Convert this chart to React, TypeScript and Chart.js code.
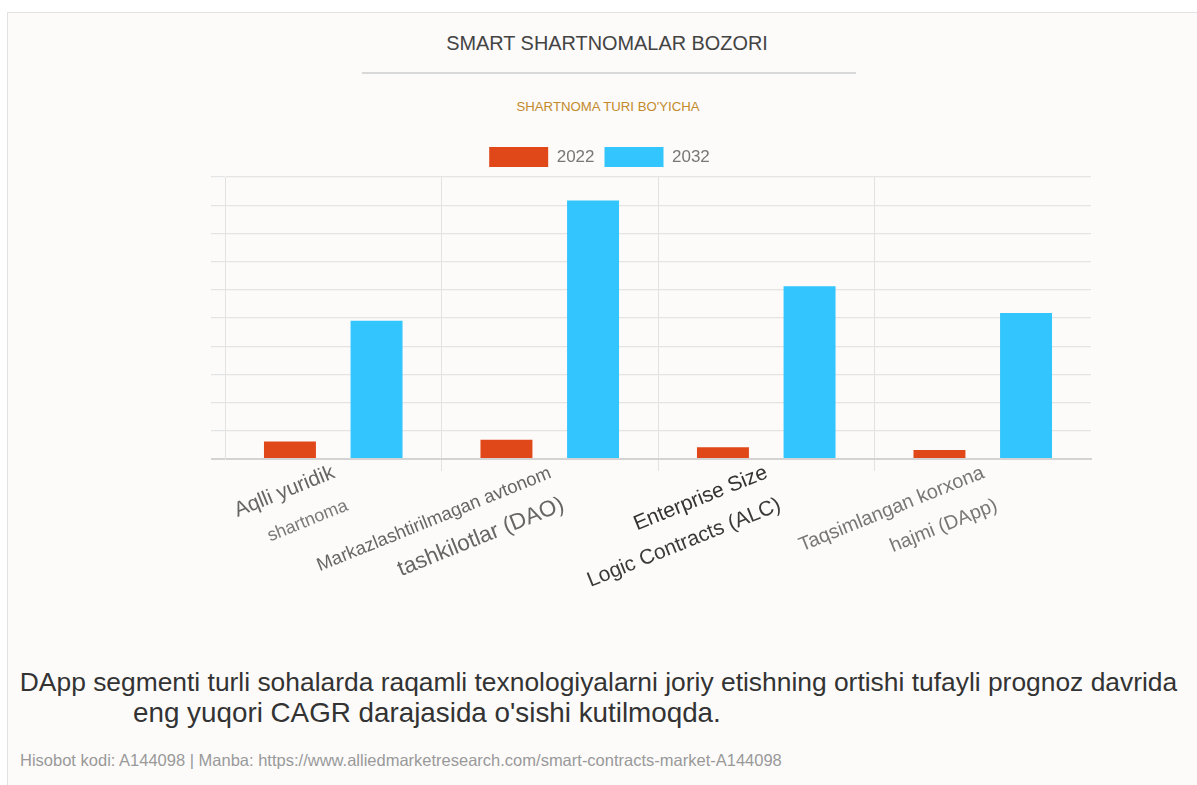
import React, { useEffect, useRef } from "react";
import { Chart, registerables } from "chart.js";

Chart.register(...registerables);

// ---------- data ----------
const TITLE = "SMART SHARTNOMALAR BOZORI";
const SUBTITLE = "SHARTNOMA TURI BO'YICHA";
const CATEGORIES = [
  "Aqlli yuridik shartnoma",
  "Markazlashtirilmagan avtonom tashkilotlar (DAO)",
  "Enterprise Size Logic Contracts (ALC)",
  "Taqsimlangan korxona hajmi (DApp)",
];
const CATEGORY_LINES = [
  ["Aqlli yuridik", "shartnoma"],
  ["Markazlashtirilmagan avtonom", "tashkilotlar (DAO)"],
  ["Enterprise Size", "Logic Contracts (ALC)"],
  ["Taqsimlangan korxona", "hajmi (DApp)"],
];
const SERIES_NAMES = ["2022", "2032"];
const VALUES_2022 = [0.62, 0.68, 0.42, 0.32];
const VALUES_2032 = [4.9, 9.17, 6.13, 5.18];
const Y_MAX = 10;
const Y_STEP = 1;
const NOTE_LINE_1 =
  "DApp segmenti turli sohalarda raqamli texnologiyalarni joriy etishning ortishi tufayli prognoz davrida";
const NOTE_LINE_2 = "eng yuqori CAGR darajasida o'sishi kutilmoqda.";
const SOURCE =
  "Hisobot kodi: A144098 | Manba: https://www.alliedmarketresearch.com/smart-contracts-market-A144098";

// ---------- styles ----------
const FONT = "'Liberation Sans', Arial, Helvetica, sans-serif";
const SERIES_COLORS = ["#e0481a", "#33c5fe"];
const LABEL_FONT_SIZES = [
  [21, 18],
  [18.5, 22.5],
  [21, 21],
  [19.8, 19.5],
];
const LABEL_COLORS = [
  ["#666", "#7a7a7a"],
  ["#666", "#666"],
  ["#333", "#3a3a3a"],
  ["#777", "#777"],
];
const LABEL_ANGLE = 22;

const labelPlugin = {
  id: "twoLineRotatedLabels",
  afterDraw(chart: any) {
    const xs = chart.scales.x;
    const ctx = chart.ctx;
    ctx.save();
    CATEGORY_LINES.forEach((lines, i) => {
      const x = xs.getPixelForValue(i);
      const y = xs.top + 1;
      ctx.save();
      ctx.translate(x, y);
      ctx.rotate((-LABEL_ANGLE * Math.PI) / 180);
      ctx.textAlign = "right";
      ctx.textBaseline = "alphabetic";
      lines.forEach((t, j) => {
        ctx.font = `${LABEL_FONT_SIZES[i][j]}px ${FONT}`;
        ctx.fillStyle = LABEL_COLORS[i][j];
        ctx.fillText(t, -4, j === 0 ? 17 : 52);
      });
      ctx.restore();
    });
    ctx.restore();
  },
};

function BarChart() {
  const ref = useRef<HTMLCanvasElement>(null);
  useEffect(() => {
    if (!ref.current) return;
    const chart = new Chart(ref.current, {
      type: "bar",
      data: {
        labels: CATEGORIES,
        datasets: [
          {
            label: SERIES_NAMES[0],
            data: VALUES_2022,
            backgroundColor: SERIES_COLORS[0],
            borderWidth: 0,
            categoryPercentage: 0.8,
            barPercentage: 0.6,
          },
          {
            label: SERIES_NAMES[1],
            data: VALUES_2032,
            backgroundColor: SERIES_COLORS[1],
            borderWidth: 0,
            categoryPercentage: 0.8,
            barPercentage: 0.6,
          },
        ],
      },
      options: {
        responsive: false,
        animation: false,
        layout: { padding: { left: 108, right: 106, top: 7, bottom: 139 } },
        plugins: {
          title: { display: false },
          tooltip: { enabled: false },
          legend: {
            display: true,
            position: "top",
            labels: {
              boxWidth: 59,
              boxHeight: 20,
              padding: 10,
              color: "#777",
              font: { family: FONT, size: 17 },
            },
          },
        },
        scales: {
          x: {
            offset: true,
            ticks: { display: false },
            grid: {
              offset: true,
              drawTicks: true,
              tickLength: 12,
              color: (c: any) =>
                c.index === undefined || c.index === 0 || c.index >= CATEGORIES.length
                  ? "rgba(0,0,0,0)"
                  : "#e2e2e2",
              lineWidth: 1,
            },
            border: { display: true, color: "#d3d3d3", width: 2 },
            afterFit: (s: any) => {
              s.height = 12;
            },
          },
          y: {
            min: 0,
            max: Y_MAX,
            ticks: { display: false, stepSize: Y_STEP },
            grid: {
              drawTicks: true,
              tickLength: 14,
              color: (c: any) => (c.tick && c.tick.value === 0 ? "#d3d3d3" : "#e4e4e4"),
              lineWidth: (c: any) => (c.tick && c.tick.value === 0 ? 2 : 1.2),
            },
            border: { display: true, color: "#e2e2e2", width: 1 },
            afterFit: (s: any) => {
              s.width = 117;
            },
          },
        },
      },
      plugins: [labelPlugin],
    });
    return () => chart.destroy();
  }, []);
  return (
    <canvas
      ref={ref}
      width={1197}
      height={480}
      style={{ position: "absolute", left: 0, top: 130, width: 1197, height: 480 }}
    />
  );
}

export default function App() {
  const abs: React.CSSProperties = { position: "absolute", whiteSpace: "nowrap", fontFamily: FONT };
  return (
    <div
      style={{
        position: "fixed",
        left: 0,
        top: 0,
        width: 1197,
        height: 785,
        overflow: "hidden",
        background: "#ffffff",
      }}
    >
      <div
        style={{
          position: "absolute",
          left: 7,
          top: 12,
          width: 1220,
          height: 820,
          border: "1px solid #e2e2e2",
          background: "#fcfbfa",
        }}
      />
      <div
        style={{
          ...abs,
          left: 607,
          top: 31,
          transform: "translateX(-50%)",
          fontSize: 19.9,
          lineHeight: "24px",
          color: "#444",
        }}
      >
        {TITLE}
      </div>
      <div style={{ position: "absolute", left: 362, top: 72, width: 494, height: 2, background: "#d8d8d8" }} />
      <div
        style={{
          ...abs,
          left: 608,
          top: 99,
          transform: "translateX(-50%)",
          fontSize: 13.2,
          lineHeight: "16px",
          color: "#c28a2a",
        }}
      >
        {SUBTITLE}
      </div>
      <BarChart />
      <div
        style={{
          ...abs,
          left: 598.5,
          top: 668,
          transform: "translateX(-50%)",
          fontSize: 26.4,
          lineHeight: "28px",
          color: "#333",
        }}
      >
        {NOTE_LINE_1}
      </div>
      <div style={{ ...abs, left: 133, top: 699, fontSize: 27.8, lineHeight: "28px", color: "#333" }}>
        {NOTE_LINE_2}
      </div>
      <div style={{ ...abs, left: 20, top: 751, fontSize: 16.5, lineHeight: "18px", color: "#999" }}>
        {SOURCE}
      </div>
    </div>
  );
}
